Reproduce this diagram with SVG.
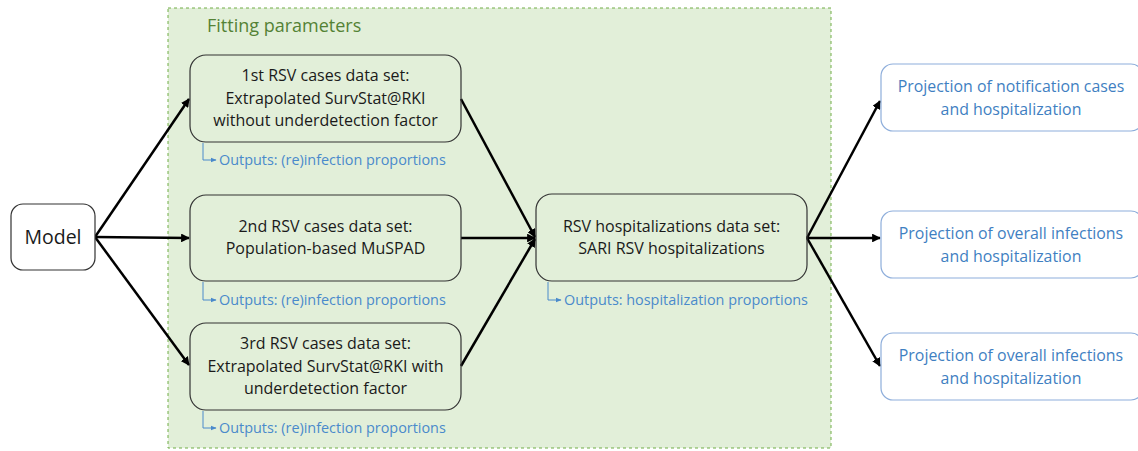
<svg xmlns="http://www.w3.org/2000/svg" width="1138" height="451" viewBox="0 0 1138 451">
<defs>
<style>
.node{fill:none;stroke:#333;stroke-width:1.2}
.nodew{fill:#fff;stroke:#333;stroke-width:1.2}
.proj{fill:#fff;stroke:#8eaedb;stroke-width:1.2}
.t{font-family:"Open Sans","Liberation Sans",Arial,sans-serif;font-size:16px;fill:#1a1a1a;text-anchor:middle}
.pt{font-family:"Open Sans","Liberation Sans",Arial,sans-serif;font-size:15.9px;fill:#3f7fc2;text-anchor:middle}
.out{font-family:"Open Sans","Liberation Sans",Arial,sans-serif;font-size:14.4px;fill:#4a8acb}
.conn{stroke:#000;stroke-width:2.5;fill:none;marker-end:url(#ah)}
.br{stroke:#4a8acb;stroke-width:1;fill:none;marker-end:url(#bh)}
</style>
<marker id="ah" viewBox="0 0 10 10" refX="9" refY="5" markerWidth="3.5" markerHeight="3.5" orient="auto" markerUnits="strokeWidth">
<path d="M0,0 L10,5 L0,10 z" fill="#000"/>
</marker>
<marker id="bh" viewBox="0 0 10 10" refX="9" refY="5" markerWidth="6" markerHeight="6" orient="auto" markerUnits="strokeWidth">
<path d="M0,1 L10,5 L0,9 z" fill="#4a8acb"/>
</marker>
</defs>
<rect width="1138" height="451" fill="#fff"/>
<g id="fitting-region">
<rect x="168" y="8" width="663" height="440" fill="#e2efd9" stroke="#70ad47" stroke-width="1" stroke-dasharray="3,3"/>
<text x="207" y="32" font-family="'Open Sans','Liberation Sans',Arial,sans-serif" font-size="18" fill="#548235">Fitting parameters</text>
</g>
<g id="connectors">
<line class="conn" x1="95" y1="237" x2="189" y2="99"/>
<line class="conn" x1="95" y1="237" x2="189" y2="238"/>
<line class="conn" x1="95" y1="237" x2="189" y2="365"/>
<line class="conn" x1="461" y1="99" x2="535" y2="237"/>
<line class="conn" x1="461" y1="238" x2="535" y2="238"/>
<line class="conn" x1="461" y1="366" x2="535" y2="239"/>
<line class="conn" x1="807" y1="238" x2="880" y2="101"/>
<line class="conn" x1="807" y1="238" x2="880" y2="238"/>
<line class="conn" x1="807" y1="238" x2="880" y2="366"/>
</g>
<g id="model">
<rect class="nodew" x="11" y="204" width="84" height="66" rx="12"/>
<text class="t" x="53" y="244" style="font-size:19.5px">Model</text>
</g>
<g id="rsv1">
<rect class="node" x="190" y="55" width="271" height="87" rx="16"/>
<text class="t" x="325.5" y="81">1st RSV cases data set:</text>
<text class="t" x="325.5" y="104">Extrapolated SurvStat@RKI</text>
<text class="t" x="325.5" y="126">without underdetection factor</text>
<path class="br" d="M203,143 V160 H216"/>
<text class="out" x="219" y="165">Outputs: (re)infection proportions</text>
</g>
<g id="rsv2">
<rect class="node" x="190" y="195" width="271" height="86" rx="16"/>
<text class="t" x="325.5" y="232">2nd RSV cases data set:</text>
<text class="t" x="325.5" y="254">Population-based MuSPAD</text>
<path class="br" d="M203,282 V300 H216"/>
<text class="out" x="219" y="305">Outputs: (re)infection proportions</text>
</g>
<g id="rsv3">
<rect class="node" x="190" y="323" width="271" height="87" rx="16"/>
<text class="t" x="325.5" y="349">3rd RSV cases data set:</text>
<text class="t" x="325.5" y="372">Extrapolated SurvStat@RKI with</text>
<text class="t" x="325.5" y="394">underdetection factor</text>
<path class="br" d="M203,411 V428 H216"/>
<text class="out" x="219" y="433">Outputs: (re)infection proportions</text>
</g>
<g id="hosp">
<rect class="node" x="536" y="194" width="271" height="87" rx="16"/>
<text class="t" x="671.5" y="232">RSV hospitalizations data set:</text>
<text class="t" x="671.5" y="254">SARI RSV hospitalizations</text>
<path class="br" d="M548,282 V300 H561"/>
<text class="out" x="564" y="305">Outputs: hospitalization proportions</text>
</g>
<g id="proj1">
<rect class="proj" x="881" y="64" width="262" height="67" rx="12"/>
<text class="pt" x="1011" y="92">Projection of notification cases</text>
<text class="pt" x="1011" y="115">and hospitalization</text>
</g>
<g id="proj2">
<rect class="proj" x="881" y="211" width="262" height="67" rx="12"/>
<text class="pt" x="1011" y="239">Projection of overall infections</text>
<text class="pt" x="1011" y="262">and hospitalization</text>
</g>
<g id="proj3">
<rect class="proj" x="881" y="333" width="262" height="67" rx="12"/>
<text class="pt" x="1011" y="361">Projection of overall infections</text>
<text class="pt" x="1011" y="384">and hospitalization</text>
</g>
</svg>
